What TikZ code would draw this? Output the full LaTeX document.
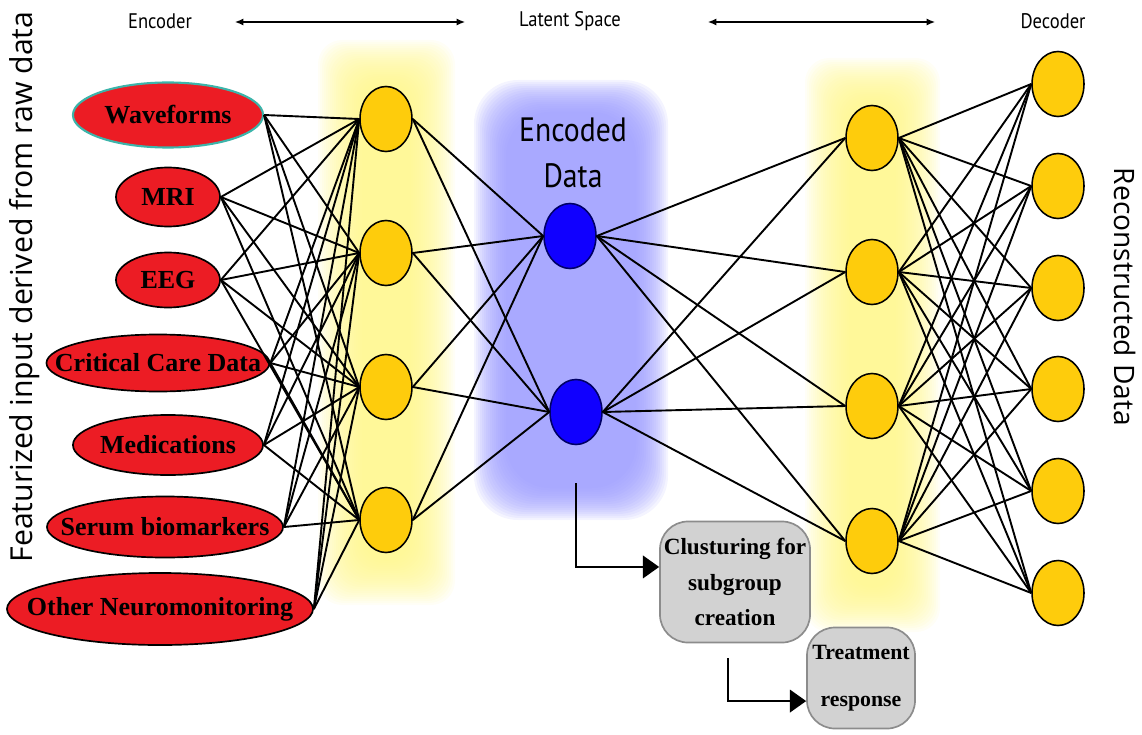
\documentclass[tikz,border=0pt]{standalone}
\usepackage{fontspec}
\setmainfont{Liberation Serif}
\newfontfamily\labfont[FakeStretch=0.88]{PT Sans}
\newfontfamily\sidefont{Open Sans}
\usetikzlibrary{shapes.geometric,arrows.meta,backgrounds}
\definecolor{inred}{RGB}{236,28,36}
\definecolor{nodeyel}{RGB}{254,204,12}
\definecolor{zblue}{RGB}{16,0,255}
\definecolor{glowblue}{RGB}{152,152,255}
\definecolor{glowyel}{RGB}{255,246,130}
\definecolor{boxgray}{RGB}{210,210,210}
\definecolor{boxedge}{RGB}{140,140,140}
\definecolor{wavteal}{RGB}{60,180,170}
% #1..#4 outer box, #5 colour, #6 corner radius, #7 layers, #8 opacity per layer
\newcommand\softglow[8]{%
  \foreach \g in {0,...,#7}{%
    \fill[#5,opacity=#8,rounded corners=#6] ({#1+2*\g},{#2+2*\g}) rectangle ({#3-2*\g},{#4-2*\g});}}
\begin{document}
\begin{tikzpicture}[x=0.025cm,y=-0.025cm,
  inp/.style={ellipse, draw=black, line width=1.2pt, fill=inred, inner sep=0pt},
  inlab/.style={font=\bfseries\fontsize{18.5}{20}\selectfont, inner sep=0pt},
  neuron/.style={ellipse, draw=black, line width=1.1pt, fill=nodeyel, minimum width=1.3cm, minimum height=1.625cm, inner sep=0pt},
  latent/.style={neuron, fill=zblue, draw=black!60!blue},
  conn/.style={line width=1.35pt},
  graybox/.style={rectangle, rounded corners=0.7cm, draw=boxedge, fill=boxgray, line width=1.2pt, align=center, inner sep=0pt},
  toplab/.style={font=\labfont\fontsize{15}{17}\selectfont, inner sep=0pt},
  sidelab/.style={font=\sidefont\fontsize{21.5}{23}\selectfont, inner sep=0pt},
  toparrow/.style={{Latex[length=6pt,width=5pt]}-{Latex[length=6pt,width=5pt]}, line width=0.8pt},
  bigarrow/.style={-{Triangle[length=11.5pt,width=16pt]}, line width=1.4pt}
]
\useasboundingbox (0,0) rectangle (1142,735);

% input ellipses
\node[inp, draw=wavteal, line width=1.5pt, minimum width=4.75cm, minimum height=1.625cm] (in1) at (168,115) {};
\node[inp, minimum width=2.6cm, minimum height=1.475cm] (in2) at (168,197) {};
\node[inp, minimum width=2.6cm, minimum height=1.375cm] (in3) at (168,280) {};
\node[inp, minimum width=5.575cm, minimum height=1.425cm] (in4) at (158,363) {};
\node[inp, minimum width=4.75cm, minimum height=1.5cm] (in5) at (168,445) {};
\node[inp, minimum width=5.9cm, minimum height=1.525cm] (in6) at (165,527) {};
\node[inp, minimum width=7.65cm, minimum height=1.8cm] (in7) at (160,609) {};
\node[inlab] (t1) at (in1) {Waveforms};
\node[inlab] (t2) at (in2) {MRI};
\node[inlab] (t3) at (in3) {EEG};
\node[inlab] (t4) at (in4) {Critical Care Data};
\node[inlab] (t5) at (in5) {Medications};
\node[inlab] (t6) at (in6) {Serum biomarkers};
\node[inlab] (t7) at (in7) {Other Neuromonitoring};

% encoder hidden layer
\foreach \j/\y in {1/119,2/253,3/387,4/520}
  \node[neuron] (h\j) at (386,\y) {};
% latent
\node[latent] (z1) at (570,236) {};
\node[latent] (z2) at (576,412) {};
% decoder hidden
\foreach \j/\y in {1/138,2/272,3/406,4/541}
  \node[neuron] (d\j) at (872,\y) {};
% outputs
\foreach \m/\y in {1/84,2/186,3/288,4/389,5/491,6/593}
  \node[neuron] (o\m) at (1058,\y) {};

% connections
\foreach \i in {1,...,7}
  \foreach \j in {1,...,4}
    \draw[conn] (in\i.east) -- (h\j.west);
\foreach \j in {1,...,4}
  \foreach \k in {1,2}
    \draw[conn] (h\j.east) -- (z\k.west);
\foreach \k in {1,2}
  \foreach \j in {1,...,4}
    \draw[conn] (z\k.east) -- (d\j.west);
\foreach \j in {1,...,4}
  \foreach \m in {1,...,6}
    \draw[conn] (d\j.east) -- (o\m.west);

% labels
\node[font=\labfont\fontsize{24}{33}\selectfont, align=center, inner sep=0pt] (enclab) at (573,153) {Encoded\\Data};
\node[toplab] (enc) at (160,21) {Encoder};
\node[toplab] (lat) at (570,21) {Latent Space};
\node[toplab] (dec) at (1053,21) {Decoder};
\coordinate (a1) at (235,22);
\coordinate (a2) at (465,22);
\coordinate (a3) at (708,22);
\coordinate (a4) at (935,22);
\draw[toparrow] (a1) -- (a2);
\draw[toparrow] (a3) -- (a4);
\node[sidelab, rotate=90] (ylab) at (25,287) {Featurized input derived from raw data};
\node[sidelab, font=\sidefont\fontsize{20}{22}\selectfont, rotate=-90] (rlab) at (1125,297) {Reconstructed Data};

% gray boxes
\node[graybox, minimum width=3.75cm, minimum height=3.025cm, font=\bfseries\fontsize{16.5}{25.5}\selectfont] (c1) at (735,582) {Clusturing for\\subgroup\\creation};
\node[graybox, minimum width=2.7cm, minimum height=2.525cm, font=\bfseries\fontsize{15.5}{33}\selectfont] (c2) at (861,678) {Treatment\\response};
\coordinate (b1) at (576,483);
\coordinate (b2) at (728,658);
\draw[bigarrow] (b1) |- ([yshift=10.7pt]c1.west);
\draw[bigarrow] (b2) |- ([yshift=-16.4pt]c2.west);

% glows
\begin{scope}[on background layer]
  \softglow{318}{40}{455}{605}{glowyel}{0.6cm}{22}{0.07}
  \softglow{474}{80}{668}{520}{glowblue}{1.1cm}{16}{0.1}
  \softglow{805}{58}{940}{632}{glowyel}{0.6cm}{22}{0.07}
\end{scope}
\end{tikzpicture}
\end{document}
